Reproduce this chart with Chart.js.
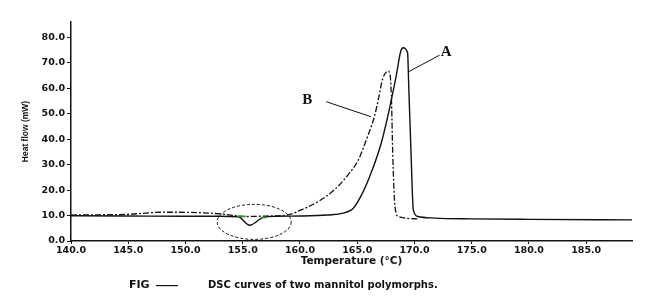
<!DOCTYPE html>
<html>
<head>
<meta charset="utf-8">
<script src="https://cdn.jsdelivr.net/npm/chart.js@4.4.1/dist/chart.umd.min.js"></script>
<style>
  html, body { margin: 0; padding: 0; background: #fff; }
  #wrap { width: 650px; height: 304px; }
</style>
</head>
<body>
<div id="wrap"><canvas id="dscChart" width="650" height="304"></canvas></div>
<script>
// curve A (solid) - temperature (°C) / heat flow (mW)
const tempA = [140, 145, 150, 153, 154.6, 155.6, 156.8, 158, 160, 162.4, 164.5, 165.3, 166.2, 167.1, 167.8, 168.4, 168.8, 169.0, 169.4, 169.5, 169.7, 169.9, 170.3, 171.8, 175, 180, 189];
const heatA = [9.9, 9.8, 9.7, 9.7, 9.5, 6.2, 9.3, 9.7, 9.8, 10.2, 12.2, 17.4, 26.6, 38.5, 51.6, 64.7, 74.5, 75.9, 73.9, 60.7, 34.5, 12.2, 9.6, 9.0, 8.7, 8.5, 8.3];

// curve B (dashed)
const tempB = [140, 145, 148, 151.4, 153.4, 155.1, 157, 158.9, 160.1, 161.6, 163.0, 164.2, 165.1, 165.9, 166.5, 166.9, 167.2, 167.7, 167.9, 168.0, 168.1, 168.3, 168.6, 170.3];
const heatB = [10.2, 10.5, 11.3, 11.1, 10.5, 9.6, 9.8, 10.2, 12.2, 15.5, 20.1, 26.0, 31.9, 41.0, 48.9, 56.8, 63.4, 66.7, 64.0, 54.0, 34.5, 13.5, 9.6, 8.7];

const yTicks = [0, 10, 20, 30, 40, 50, 60, 70, 80];
const xTicks = [140, 145, 150, 155, 160, 165, 170, 175, 180, 185];

const tickFont = { family: 'DejaVu Sans', size: 9.5, weight: 'bold' };

// labels, leaders and circled region drawn on top of the plot
const notes = {
  id: 'notes',
  afterDatasetsDraw(chart) {
    const { ctx, scales: { x, y } } = chart;
    ctx.save();
    ctx.strokeStyle = '#111';
    ctx.fillStyle = '#111';
    ctx.lineWidth = 1;

    // leader lines
    ctx.beginPath();
    ctx.moveTo(x.getPixelForValue(169.5), y.getPixelForValue(66.5));
    ctx.lineTo(x.getPixelForValue(172.2), y.getPixelForValue(73));
    ctx.moveTo(x.getPixelForValue(162.3), y.getPixelForValue(54.7));
    ctx.lineTo(x.getPixelForValue(166.2), y.getPixelForValue(48.8));
    ctx.stroke();

    ctx.font = 'bold 15px "Liberation Serif"';
    ctx.textAlign = 'left';
    ctx.textBaseline = 'middle';
    ctx.fillText('A', x.getPixelForValue(172.3), y.getPixelForValue(74.2));
    ctx.fillText('B', x.getPixelForValue(160.2), y.getPixelForValue(55.5));

    // dashed ellipse round the small dip
    ctx.setLineDash([3, 2]);
    ctx.beginPath();
    ctx.ellipse(x.getPixelForValue(156.0), y.getPixelForValue(7.5), 37, 17.5, 0, 0, Math.PI * 2);
    ctx.stroke();
    ctx.setLineDash([]);

    ctx.strokeStyle = '#2a9a2a';
    ctx.lineWidth = 1.5;
    ctx.beginPath();
    ctx.moveTo(x.getPixelForValue(154.5), y.getPixelForValue(9.7));
    ctx.lineTo(x.getPixelForValue(155.3), y.getPixelForValue(9.7));
    ctx.moveTo(x.getPixelForValue(156.6), y.getPixelForValue(9.2));
    ctx.lineTo(x.getPixelForValue(157.1), y.getPixelForValue(9.2));
    ctx.stroke();

    // caption
    ctx.fillStyle = '#111';
    ctx.textBaseline = 'middle';
    ctx.font = 'bold 11px "DejaVu Sans"';
    ctx.fillText('FIG', 129, 285);
    ctx.fillRect(156, 285, 22, 1.2);
    ctx.font = 'bold 10px "DejaVu Sans"';
    ctx.fillText('DSC curves of two mannitol polymorphs.', 208, 285);
    ctx.restore();
  }
};

const ctx = document.getElementById('dscChart').getContext('2d');
const myChart = new Chart(ctx, {
  type: 'line',
  data: {
    datasets: [
      {
        label: 'A',
        data: tempA.map((t, i) => ({ x: t, y: heatA[i] })),
        borderColor: '#111',
        borderWidth: 1.4,
        pointRadius: 0,
        cubicInterpolationMode: 'monotone'
      },
      {
        label: 'B',
        data: tempB.map((t, i) => ({ x: t, y: heatB[i] })),
        borderColor: '#111',
        borderWidth: 1.3,
        borderDash: [6, 2, 2, 2],
        pointRadius: 0,
        cubicInterpolationMode: 'monotone'
      }
    ]
  },
  options: {
    responsive: false,
    animation: false,
    layout: { padding: { top: 22, right: 18, left: 0, bottom: 0 } },
    plugins: { legend: { display: false }, tooltip: { enabled: false } },
    scales: {
      x: {
        type: 'linear',
        min: 140,
        max: 189,
        afterBuildTicks: s => { s.ticks = xTicks.map(v => ({ value: v })); },
        afterFit: s => { s.height = 63; },
        border: { color: '#111', width: 1.5 },
        grid: { drawOnChartArea: false, tickLength: 3, color: '#111' },
        ticks: {
          color: '#111',
          font: tickFont,
          maxRotation: 0,
          padding: 1,
          callback: v => v.toFixed(1)
        },
        title: {
          display: true,
          text: 'Temperature (°C)',
          color: '#111',
          font: { family: 'DejaVu Sans', size: 10.5, weight: 'bold' },
          padding: { bottom: 36 }
        }
      },
      y: {
        type: 'linear',
        min: 0,
        max: 86,
        afterBuildTicks: s => { s.ticks = yTicks.map(v => ({ value: v })); },
        afterFit: s => { s.width = 71; },
        border: { color: '#111', width: 1.5 },
        grid: { drawOnChartArea: false, tickLength: 4, color: '#111' },
        ticks: {
          color: '#111',
          font: tickFont,
          padding: 2,
          callback: v => v.toFixed(1)
        },
        title: {
          display: true,
          text: 'Heat flow (mW)',
          color: '#111',
          font: { family: 'Liberation Sans', size: 8.5, weight: 'bold' },
          padding: { top: 21 }
        }
      }
    }
  },
  plugins: [notes]
});
</script>
</body>
</html>
